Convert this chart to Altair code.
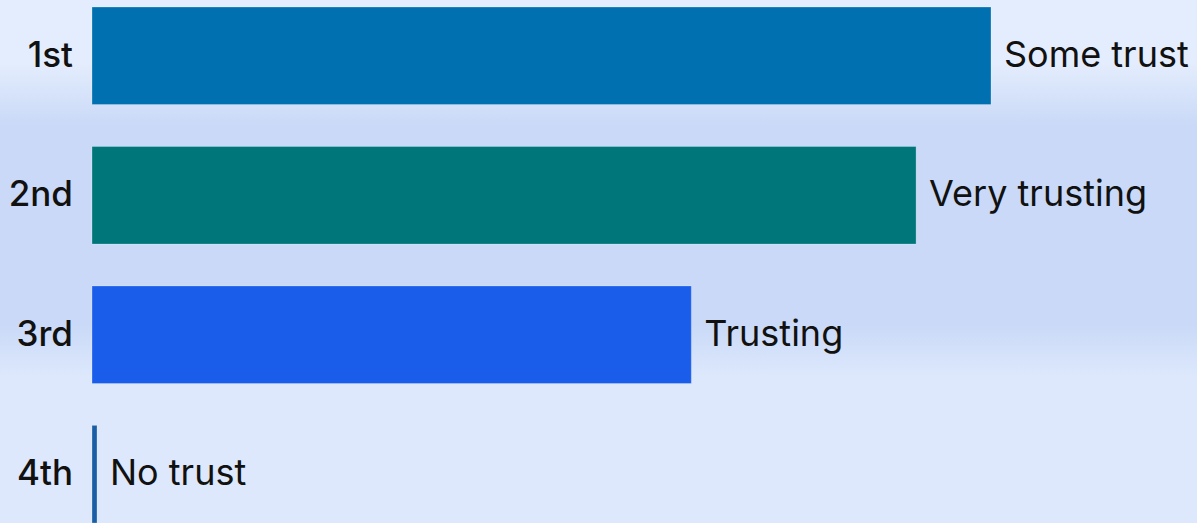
import altair as alt
import pandas as pd

categories = ["1st", "2nd", "3rd", "4th"]
values = [36, 33, 24, 0.2]
labels = ["Some trust", "Very trusting", "Trusting", "No trust"]
colors = ["#0070b1", "#00767a", "#1b5deb", "#1a5fa6"]

df = pd.DataFrame({"rank": categories, "value": values, "label": labels, "color": colors})

W, H = 1197, 523
FONT = "Inter"

y_enc = alt.Y("rank:N", sort=categories, axis=None,
              scale=alt.Scale(range=[7, 523], paddingInner=0.3, paddingOuter=0))
x_scale = alt.Scale(domain=[0, max(values)], range=[92, 991], nice=False, zero=True)

base = alt.Chart(df)

background = base.mark_rect(
    fill=alt.Gradient(
        gradient="linear", x1=0, y1=0, x2=0, y2=1,
        stops=[
            alt.GradientStop(offset=0.0, color="#e4edfd"),
            alt.GradientStop(offset=0.12, color="#e4edfd"),
            alt.GradientStop(offset=0.24, color="#c9d9f7"),
            alt.GradientStop(offset=0.62, color="#c9d9f7"),
            alt.GradientStop(offset=0.72, color="#dde8fc"),
            alt.GradientStop(offset=1.0, color="#dde8fc"),
        ],
    )
).encode(
    x=alt.value(0), x2=alt.value("width"), y=alt.value(0), y2=alt.value("height")
).transform_filter(alt.datum.rank == categories[0])

bars = base.mark_bar(stroke="#ffffff", strokeOpacity=0.25, strokeWidth=1).encode(
    x=alt.X("value:Q", scale=x_scale, axis=None),
    y=y_enc,
    color=alt.Color("color:N", scale=None),
)

bar_labels = base.mark_text(align="left", baseline="middle", dx=13, font=FONT,
                            fontSize=36, color="#111111").encode(
    x=alt.X("value:Q", scale=x_scale, axis=None),
    y=y_enc,
    text="label:N",
)

cat_labels = base.mark_text(align="right", baseline="middle", font=FONT,
                            fontSize=35, fontWeight=500, color="#111111").encode(
    x=alt.value(73),
    y=y_enc,
    text="rank:N",
)

chart = alt.layer(background, bars, bar_labels, cat_labels).properties(
    width=W, height=H, padding=0, background="#e4edfd"
).configure_view(strokeWidth=0)

chart.save("out.html", embed_options={"renderer": "svg", "actions": False})
